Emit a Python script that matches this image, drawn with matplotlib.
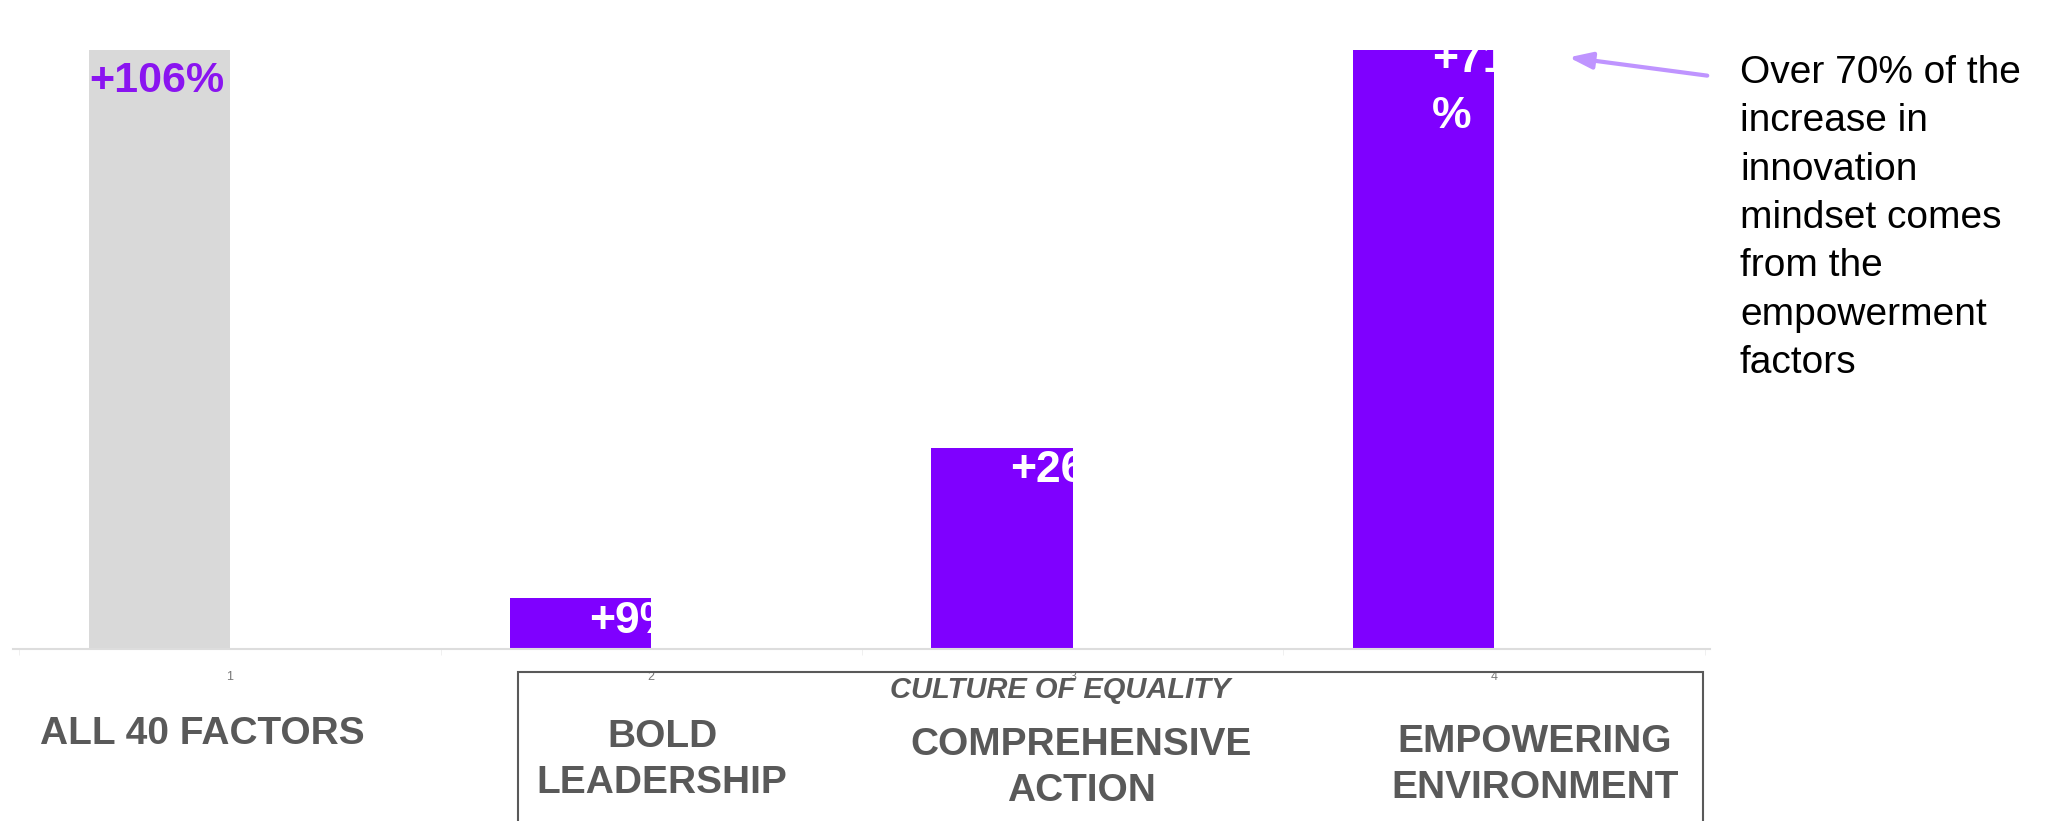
import matplotlib.pyplot as plt
from matplotlib.patches import Rectangle, FancyArrowPatch

plt.rcParams['font.family'] = ['Liberation Sans', 'DejaVu Sans']

# bar values (percent increase in innovation mindset)
positions = [1, 2, 3, 4]
values = [106, 9, 26, 71]
value_labels = ['+106%', '+9%', '+26%', '+71\n%']
categories = ['ALL 40 FACTORS', 'BOLD\nLEADERSHIP', 'COMPREHENSIVE\nACTION', 'EMPOWERING\nENVIRONMENT']
group_title = 'CULTURE OF EQUALITY'
note = ('Over 70% of the\nincrease in\ninnovation\nmindset comes\nfrom the\n'
        'empowerment\nfactors')

PURPLE = '#7f00ff'
GREY_BAR = '#d9d9d9'
TEXT_GREY = '#595959'

fig = plt.figure(figsize=(20.46, 8.21), dpi=100)
ax = fig.add_axes([13 / 2046, 1 - 649 / 821, (1710 - 13) / 2046, (649 - 50) / 821])

colors = [GREY_BAR, PURPLE, PURPLE, PURPLE]
bars = ax.bar(positions, values, width=-0.335, align='edge', color=colors)

ax.set_xlim(0.485, 4.513)
ax.set_ylim(3.2, 71)

ax.set_xticks(positions)
ax.set_xticklabels([str(p) for p in positions])
ax.set_xticks([0.5, 1.5, 2.5, 3.5, 4.5], minor=True)
ax.tick_params(axis='x', which='major', length=0, pad=16, labelsize=9, labelcolor='#777777')
ax.tick_params(axis='x', which='minor', length=4, color='#eeeeee')
ax.set_yticks([])
for side in ['top', 'right', 'left']:
    ax.spines[side].set_visible(False)
ax.spines['bottom'].set_color('#dddddd')
ax.spines['bottom'].set_linewidth(1.5)

# value labels; the first one sits in the grey bar in purple
label_dy = [-8, -2, -2, 7]
for i, (b, lab) in enumerate(zip(bars, value_labels)):
    left = min(b.get_x(), b.get_x() + b.get_width())
    top = min(b.get_height(), ax.get_ylim()[1])
    if i == 0:
        ax.annotate(lab, (left, top), xytext=(0, label_dy[i]), textcoords='offset points',
                    ha='left', va='top', fontsize=31, fontweight='bold', color='#8a14f0')
    else:
        centre = left + abs(b.get_width()) / 2
        ax.annotate(lab, (centre + 0.02, top), xytext=(0, label_dy[i]),
                    textcoords='offset points', ha='left', va='top',
                    fontsize=32, fontweight='bold', color='white', linespacing=1.45)

# category names under the axis
cat_x = [202, 662, 1081, 1535]
cat_y = [734, 760, 768, 765]
for name, x, y in zip(categories, cat_x, cat_y):
    fig.text(x / 2046, 1 - y / 821, name, ha='center', va='center', fontsize=28,
             fontweight='bold', color=TEXT_GREY, linespacing=1.34)

fig.text(1060 / 2046, 1 - 690 / 821, group_title, ha='center', va='center', fontsize=21,
         fontweight='bold', fontstyle='italic', color=TEXT_GREY)

# box grouping the three culture factors
fig.add_artist(Rectangle((518 / 2046, -0.02), (1703 - 518) / 2046, 0.02 + 1 - 672 / 821,
                         transform=fig.transFigure, fill=False, edgecolor=TEXT_GREY, lw=1.5))

fig.text(1740 / 2046, 1 - 55 / 821, note, ha='left', va='top', fontsize=28,
         color='black', linespacing=1.44)

fig.add_artist(FancyArrowPatch((1710 / 2046, 1 - 76 / 821), (1566 / 2046, 1 - 57 / 821),
                               transform=fig.transFigure, arrowstyle='-|>,head_length=14,head_width=5',
                               color='#bf94ff', lw=3))

fig.savefig('out.png', dpi=100, facecolor='white')
